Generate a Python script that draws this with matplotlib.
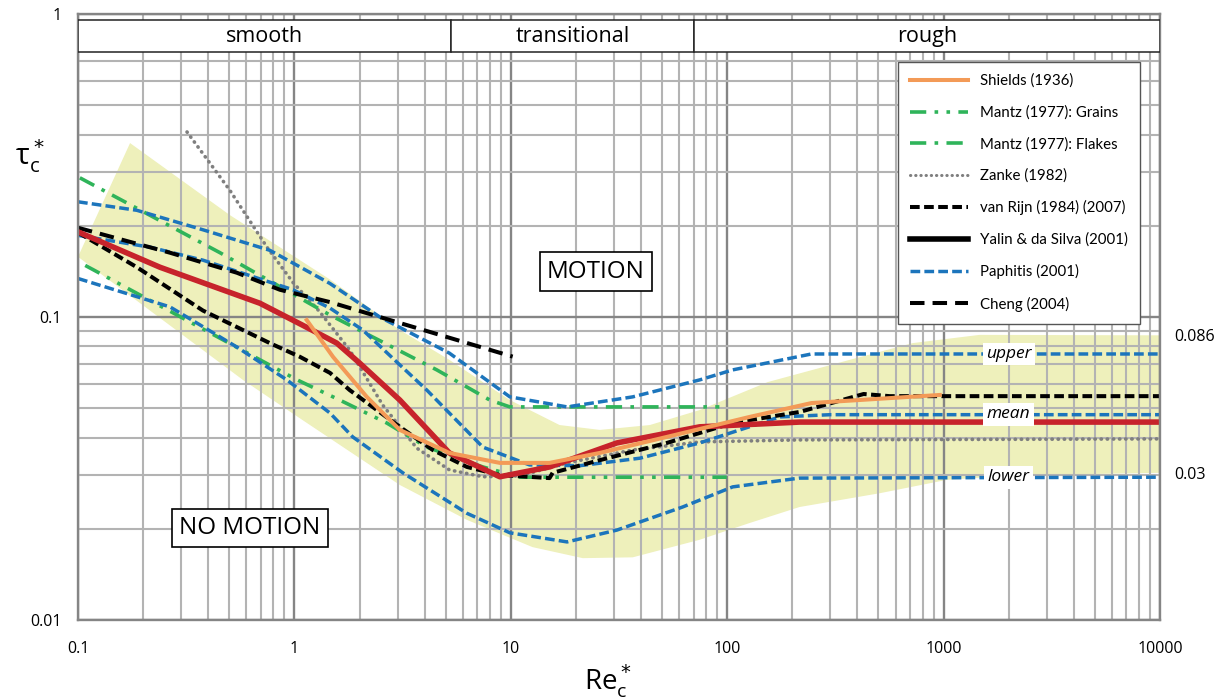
import numpy as np
import matplotlib
matplotlib.use('Agg')
import matplotlib.pyplot as plt
from matplotlib.lines import Line2D
from matplotlib.patches import Rectangle
from matplotlib.ticker import LogLocator, NullFormatter
import warnings

warnings.filterwarnings('ignore')

plt.rcParams['font.family'] = ['Open Sans', 'DejaVu Sans']

# flow regimes along the top
zone_names = ['smooth', 'transitional', 'rough']
zone_edges = [0.1, 5.3, 70, 10000]

# shaded envelope of the data
band_upper_re = [0.174, 0.503, 1.46, 3.07, 5.2, 9.9, 16.8, 25.8, 43.9, 74.6, 154, 368, 719, 1466, 10000]
band_upper_tau = [0.375, 0.217, 0.133, 0.0906, 0.0722, 0.0532, 0.044, 0.0424, 0.044, 0.0493, 0.061, 0.0722, 0.082, 0.0873, 0.087]
band_lower_re = [0.1, 0.578, 1.09, 2.23, 3.07, 6.27, 12.6, 21.5, 36.6, 74.6, 127, 216, 506, 1033, 2084, 10000]
band_lower_tau = [0.158, 0.062, 0.0457, 0.0325, 0.0279, 0.0214, 0.0174, 0.016, 0.0161, 0.0184, 0.0209, 0.0236, 0.0262, 0.029, 0.030, 0.0306]

# Paphitis (2001) upper / mean / lower
paph_up_re = [0.1, 0.187, 0.378, 0.77, 1.46, 2.48, 5.2, 9.9, 18.2, 36.6, 74.6, 106, 245, 10000]
paph_up_tau = [0.240, 0.225, 0.194, 0.166, 0.129, 0.100, 0.076, 0.0545, 0.0505, 0.0545, 0.062, 0.0669, 0.0755, 0.0755]
paph_mid_re = [0.1, 0.215, 0.378, 0.985, 1.46, 2.07, 3.07, 4.09, 5.2, 7.43, 12.2, 20.8, 39.5, 74.6, 175, 300, 10000]
paph_mid_tau = [0.186, 0.170, 0.154, 0.123, 0.107, 0.0906, 0.0695, 0.0574, 0.0482, 0.0372, 0.0325, 0.0323, 0.0342, 0.0384, 0.0468, 0.0476, 0.0476]
paph_low_re = [0.1, 0.266, 0.542, 0.923, 1.46, 1.86, 3.17, 6.27, 9.9, 18.2, 30.9, 62.2, 106, 216, 10000]
paph_low_tau = [0.134, 0.108, 0.0796, 0.062, 0.0482, 0.0402, 0.0306, 0.0225, 0.0194, 0.0181, 0.0198, 0.0236, 0.0275, 0.0294, 0.0296]

# red curve (no legend entry)
red_re = [0.1, 0.239, 0.693, 1.09, 1.57, 2.0, 3.07, 5.2, 8.9, 15.1, 30.9, 74.6, 216, 10000]
red_tau = [0.191, 0.146, 0.111, 0.094, 0.082, 0.0705, 0.0532, 0.0356, 0.0297, 0.032, 0.0384, 0.0434, 0.045, 0.045]

shields_re = [1.14, 1.51, 2.16, 3.07, 5.2, 8.9, 15.1, 25.8, 52.6, 127, 245, 960]
shields_tau = [0.0977, 0.0738, 0.0545, 0.0424, 0.0356, 0.033, 0.033, 0.0356, 0.0402, 0.0468, 0.052, 0.0553]

vanrijn_re = [0.1, 0.187, 0.378, 0.77, 1.06, 1.46, 1.80, 3.07, 4.36, 6.27, 8.9, 15.1, 15.6, 25.8, 52.6, 106, 216, 427, 563, 10000]
vanrijn_tau = [0.19, 0.146, 0.105, 0.082, 0.0739, 0.0654, 0.0574, 0.0434, 0.0364, 0.032, 0.0301, 0.0294, 0.0306, 0.0337, 0.0384, 0.0447, 0.0486, 0.0557, 0.0548, 0.0548]

cheng_re = [0.1, 0.266, 0.542, 0.857, 1.46, 2.48, 10.2]
cheng_tau = [0.197, 0.163, 0.140, 0.123, 0.112, 0.100, 0.0740]

zanke_re = [0.319, 0.503, 0.747, 0.985, 1.31, 1.80, 2.56, 3.68, 5.2, 7.43, 11.0, 18.2, 36.6, 74.6, 216, 10000]
zanke_tau = [0.408, 0.262, 0.170, 0.130, 0.104, 0.0778, 0.0512, 0.0369, 0.0313, 0.0297, 0.0299, 0.033, 0.0364, 0.0387, 0.0393, 0.0396]

flakes_re = [0.102, 0.453, 1.46, 4.55, 8.0, 9.9, 92]
flakes_tau = [0.288, 0.163, 0.1015, 0.0669, 0.0532, 0.0505, 0.0505]

grains_re = [0.108, 1.03, 1.62, 2.67, 4.09, 7.43, 11.0, 99.5]
grains_tau = [0.148, 0.062, 0.0532, 0.0447, 0.0372, 0.032, 0.0296, 0.0296]

x_ticks = [0.1, 1, 10, 100, 1000, 10000]
x_labels = ['0.1', '1', '10', '100', '1000', '10000']
y_ticks = [0.01, 0.1, 1]
y_labels = ['0.01', '0.1', '1']
side_vals = [0.086, 0.03]
side_labels = ['0.086', '0.03']
curve_tags = ['upper', 'mean', 'lower']
curve_tag_tau = [0.0755, 0.0478, 0.0296]

ORANGE = '#f39a57'
GREEN = '#2fb45a'
BLUE = '#1c75bc'
GRAY = '#7f7f7f'
RED = '#c7232b'
YELLOW = '#eef0bb'

DASH_BLUE = (0, (2.8, 1.2))
DASH_VR = (0, (2.4, 1.1))
DASH_CHENG = (0, (3.6, 2.0))
DOT = (0, (0.1, 1.6))
FLAKES = (0, (4.5, 2.3, 1, 2.3))
GRAINS = (0, (4.5, 2.3, 1, 2.3, 1, 2.3))
NARROW = ['Liberation Sans Narrow', 'Open Sans']

fig = plt.figure(figsize=(12.27, 6.99), dpi=100)
ax = fig.add_axes([78 / 1227, 1 - 620 / 699, 1082 / 1227, 606 / 699])
ax.set_xscale('log'); ax.set_yscale('log')
ax.set_xlim(0.1, 10000); ax.set_ylim(0.01, 1)

# grid
ax.set_axisbelow(True)
for axis in [ax.xaxis, ax.yaxis]:
    axis.set_minor_locator(LogLocator(base=10, subs=np.arange(2, 10), numticks=100))
    axis.set_minor_formatter(NullFormatter())
ax.grid(which='major', color='#858585', lw=1.7)
ax.grid(which='minor', color='#b3b3b3', lw=1.5)
for sp in ax.spines.values():
    sp.set_color('#858585'); sp.set_linewidth(1.7)

ax.set_xticks(x_ticks); ax.set_xticklabels(x_labels)
ax.set_yticks(y_ticks); ax.set_yticklabels(y_labels)
ax.tick_params(which='both', length=0)
ax.tick_params(axis='x', pad=15, labelsize=11.5)
ax.tick_params(axis='y', pad=12, labelsize=11.5)
for lab in ax.get_xticklabels() + ax.get_yticklabels():
    lab.set_family(NARROW)

# envelope
ax.fill(band_upper_re + band_lower_re[::-1], band_upper_tau + band_lower_tau[::-1],
        color=YELLOW, lw=0, zorder=0.3)

# curves
ax.plot(zanke_re, zanke_tau, color=GRAY, lw=2.6, ls=DOT, dash_capstyle='round', zorder=2)
ax.plot(flakes_re, flakes_tau, color=GREEN, lw=2.6, ls=FLAKES, zorder=2.1)
ax.plot(grains_re, grains_tau, color=GREEN, lw=2.6, ls=GRAINS, zorder=2.1)
for xs, ys in [(paph_up_re, paph_up_tau), (paph_mid_re, paph_mid_tau), (paph_low_re, paph_low_tau)]:
    ax.plot(xs, ys, color=BLUE, lw=2.5, ls=DASH_BLUE, zorder=2.2)
ax.plot(cheng_re, cheng_tau, color='black', lw=2.9, ls=DASH_CHENG, zorder=2.3)
ax.plot(vanrijn_re, vanrijn_tau, color='black', lw=2.9, ls=DASH_VR, zorder=2.3)
ax.plot(red_re, red_tau, color=RED, lw=4.0, zorder=2.4, solid_joinstyle='round')
ax.plot(shields_re, shields_tau, color=ORANGE, lw=2.9, zorder=2.5, solid_joinstyle='round')

# regime boxes on top
for name, x0, x1 in zip(zone_names, zone_edges[:-1], zone_edges[1:]):
    ax.add_patch(Rectangle((x0, 0.749), x1 - x0, 0.955 - 0.749, fc='white', ec='#222222',
                           lw=1.1, zorder=3))
    ax.text(np.sqrt(x0 * x1), np.sqrt(0.749 * 0.955), name, ha='center', va='center',
            fontsize=15.5, zorder=3.1)

# region labels
box = dict(boxstyle='square,pad=0.3', fc='white', ec='black', lw=1.2)
ax.text(24.7, 0.141, 'MOTION', ha='center', va='center', fontsize=17.5, bbox=box, zorder=4)
ax.text(0.622, 0.0201, 'NO MOTION', ha='center', va='center', fontsize=17.5, bbox=box, zorder=4)

for tag, t in zip(curve_tags, curve_tag_tau):
    ax.text(2000, t, tag, ha='center', va='center', fontsize=12.5, style='italic', zorder=4,
            bbox=dict(boxstyle='square,pad=0.2', fc='white', ec='none'))

for v, s in zip(side_vals, side_labels):
    ax.text(1.013, v, s, transform=ax.get_yaxis_transform(), ha='left', va='center',
            fontsize=11.5, family=NARROW)

ax.text(-0.045, 0.765, r'$\mathregular{\tau}_\mathregular{c}^*$', transform=ax.transAxes,
        ha='center', va='center', fontsize=21)
ax.text(0.49, -0.10, r'$\mathregular{Re}_\mathregular{c}^*$', transform=ax.transAxes,
        ha='center', va='center', fontsize=20)

leg = [Line2D([0], [0], color=ORANGE, lw=2.9, label='Shields (1936)'),
       Line2D([0], [0], color=GREEN, lw=2.6, ls=GRAINS, label='Mantz (1977): Grains'),
       Line2D([0], [0], color=GREEN, lw=2.6, ls=FLAKES, label='Mantz (1977): Flakes'),
       Line2D([0], [0], color=GRAY, lw=2.2, ls=DOT, dash_capstyle='round', label='Zanke (1982)'),
       Line2D([0], [0], color='black', lw=2.9, ls=DASH_VR, label='van Rijn (1984) (2007)'),
       Line2D([0], [0], color='black', lw=4.0, label='Yalin & da Silva (2001)'),
       Line2D([0], [0], color=BLUE, lw=2.5, ls=DASH_BLUE, label='Paphitis (2001)'),
       Line2D([0], [0], color='black', lw=2.9, ls=DASH_CHENG, label='Cheng (2004)')]
lg = ax.legend(handles=leg, loc='upper right', bbox_to_anchor=(0.9815, 0.921),
               prop={'family': ['Lato', 'DejaVu Sans'], 'size': 10.8},
               frameon=True, fancybox=False, framealpha=1, edgecolor='#555555',
               labelspacing=1.15, handlelength=3.9, handletextpad=0.8, borderpad=0.8,
               borderaxespad=0)
lg.get_frame().set_linewidth(1.0)
lg.set_zorder(5)

fig.savefig('out.png', dpi=100)
